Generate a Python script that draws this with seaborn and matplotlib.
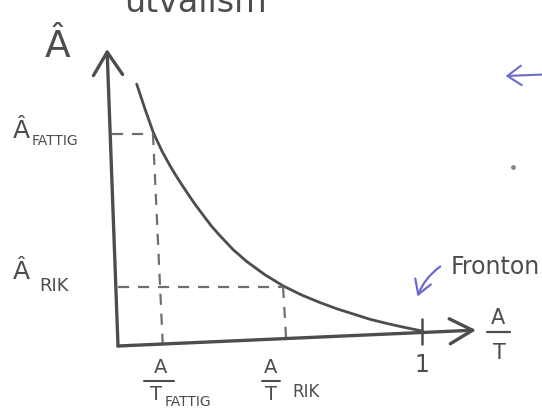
import matplotlib
matplotlib.use("Agg")
import matplotlib.pyplot as plt
import seaborn as sns
import pandas as pd

# Sketch of Â against A/T: decreasing curve reaching the frontier at A/T = 1
curve_at = [0.0615, 0.0888, 0.116, 0.144, 0.171, 0.198, 0.226, 0.253, 0.281, 0.308,
            0.336, 0.379, 0.423, 0.484, 0.544, 0.604, 0.664, 0.720, 0.773, 0.829,
            0.885, 0.938, 1.0]
curve_a = [0.873, 0.790, 0.712, 0.651, 0.601, 0.556, 0.513, 0.473, 0.435, 0.399,
           0.367, 0.321, 0.282, 0.237, 0.200, 0.170, 0.145, 0.124, 0.107, 0.089,
           0.075, 0.063, 0.050]

# Marked levels (poor vs. rich)
a_fattig = 0.707
a_rik = 0.197
at_fattig = 0.115
at_rik = 0.543

# Hand-drawn axes (slightly tilted)
x_axis_end = (1.178, 0.053)
y_axis_end = (-0.036, 0.99)
x_axis_drop = 0.046  # rise of the x-axis line over one unit

sns.set_theme(style="white")
plt.rcParams["font.family"] = ["DejaVu Sans"]

INK = "#4d4d4d"
DASH = "#6e6e6e"
BLUE = "#6b6bcf"

fig = plt.figure(figsize=(5.42, 4.10), dpi=100)
ax = fig.add_axes([0, 0, 1, 1])
ax.set_xlim(-118 / 304, (542 - 118) / 304)
ax.set_ylim((347 - 410) / 300, 347 / 300)
ax.axis("off")


def axis_y(x):
    return x * x_axis_drop


df = pd.DataFrame({"at": curve_at, "a": curve_a})
sns.lineplot(data=df, x="at", y="a", ax=ax, color=INK, lw=2.0, sort=False,
             estimator=None, solid_joinstyle="round", solid_capstyle="round")

# Axes with open arrowheads
ax.annotate("", xy=x_axis_end, xytext=(0, 0),
            arrowprops=dict(arrowstyle="->,head_length=0.55,head_width=0.3",
                            color=INK, lw=2.4, mutation_scale=30,
                            shrinkA=0, shrinkB=0))
ax.annotate("", xy=y_axis_end, xytext=(0, 0),
            arrowprops=dict(arrowstyle="->,head_length=0.55,head_width=0.35",
                            color=INK, lw=2.4, mutation_scale=30,
                            shrinkA=0, shrinkB=0))

# Tick at A/T = 1
ax.plot([1.0, 1.0], [axis_y(1.0) - 0.04, axis_y(1.0) + 0.045], color=INK, lw=1.8)

# Dashed guides
dash_kw = dict(color=DASH, lw=1.6, dashes=(5, 4))
ax.plot([-0.02, at_fattig], [a_fattig, a_fattig], **dash_kw)
ax.plot([at_fattig, at_fattig + 0.032], [a_fattig, axis_y(at_fattig) + 0.005], **dash_kw)
ax.plot([0.0, at_rik], [a_rik, a_rik], **dash_kw)
ax.plot([at_rik, at_rik + 0.01], [a_rik, axis_y(at_rik)], **dash_kw)

# Axis names
ax.text(-0.20, 1.0, "Â", fontsize=27, color=INK, ha="center", va="center")
ax.text(1.25, 0.097, "A", fontsize=15, color=INK, ha="center", va="center")
ax.plot([1.215, 1.29], [0.047, 0.047], color=INK, lw=1.6)
ax.text(1.255, -0.02, "T", fontsize=15, color=INK, ha="center", va="center")

# y labels
ax.text(-0.345, 0.72, "Â", fontsize=18, color=INK, ha="left", va="center")
ax.text(-0.283, 0.687, "FATTIG", fontsize=10, color=INK, ha="left", va="center")
ax.text(-0.345, 0.25, "Â", fontsize=18, color=INK, ha="left", va="center")
ax.text(-0.258, 0.203, "RIK", fontsize=13, color=INK, ha="left", va="center")

# x labels
ax.text(at_fattig + 0.025, -0.07, "A", fontsize=14, color=INK, ha="center", va="center")
ax.plot([at_fattig - 0.03, at_fattig + 0.07], [-0.117, -0.117], color=INK, lw=1.5)
ax.text(at_fattig + 0.01, -0.157, "T", fontsize=14, color=INK, ha="center", va="center")
ax.text(at_fattig + 0.04, -0.185, "FATTIG", fontsize=10, color=INK, ha="left", va="center")

ax.text(at_rik - 0.04, -0.07, "A", fontsize=14, color=INK, ha="center", va="center")
ax.plot([at_rik - 0.07, at_rik - 0.01], [-0.117, -0.117], color=INK, lw=1.5)
ax.text(at_rik - 0.04, -0.157, "T", fontsize=14, color=INK, ha="center", va="center")
ax.text(at_rik + 0.03, -0.15, "RIK", fontsize=12, color=INK, ha="left", va="center")

ax.text(1.0, -0.06, "1", fontsize=17, color=INK, ha="center", va="center")

# Frontier note
ax.text(1.093, 0.265, "Fronton", fontsize=17, color=INK, ha="left", va="center")
ax.annotate("", xy=(0.985, 0.165), xytext=(1.06, 0.265),
            arrowprops=dict(arrowstyle="->,head_length=0.5,head_width=0.3",
                            color=BLUE, lw=1.6, mutation_scale=20,
                            connectionstyle="arc3,rad=0.15",
                            shrinkA=0, shrinkB=0))

# Heading at the top edge
ax.text(0.02, 1.095, "utvalism", fontsize=24, color=INK, ha="left", va="bottom")

# Side note arrow and dot
ax.annotate("", xy=(1.275, 0.9), xytext=(1.40, 0.905),
            arrowprops=dict(arrowstyle="->,head_length=0.5,head_width=0.35",
                            color=BLUE, lw=1.5, mutation_scale=20,
                            shrinkA=0, shrinkB=0))
ax.plot([1.30], [0.597], marker="o", ms=2.5, color="#888888")

fig.savefig("out.png", dpi=100)
